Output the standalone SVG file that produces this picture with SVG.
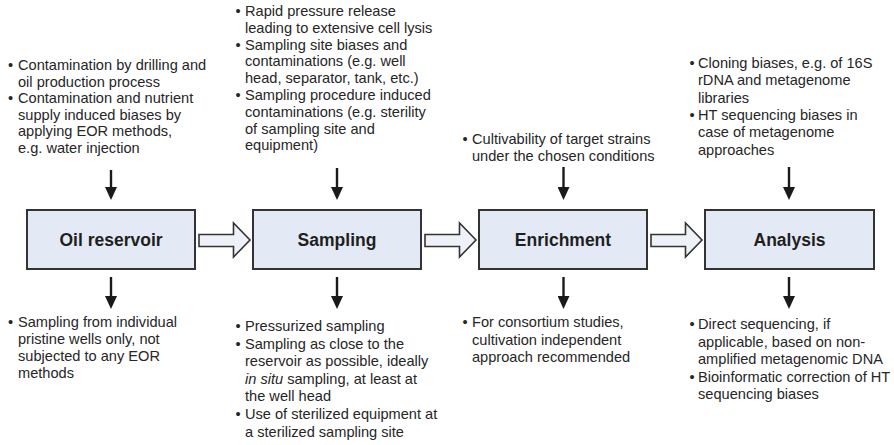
<svg xmlns="http://www.w3.org/2000/svg" width="894" height="445" viewBox="0 0 894 445">
<defs>
<style>
.t{font-family:"Liberation Sans",Arial,sans-serif;font-size:14.6px;fill:#262626}
.b{font-family:"Liberation Sans",Arial,sans-serif;font-size:14.6px;fill:#262626;text-anchor:middle}
.box{fill:#e4eaf5;stroke:#333;stroke-width:2}
.lbl{font-family:"Liberation Sans",Arial,sans-serif;font-size:17.5px;font-weight:bold;fill:#1f1f1f;text-anchor:middle}
.blk{fill:#eef2f8;stroke:#333;stroke-width:1.6;stroke-linejoin:miter}
.va{stroke:#1a1a1a;stroke-width:2.4;fill:none;marker-end:url(#ah)}
</style>
<marker id="ah" markerUnits="userSpaceOnUse" markerWidth="13" markerHeight="12" refX="7" refY="6" orient="auto" viewBox="0 0 13 12">
<path d="M0,0 L13,6 L0,12 Z" fill="#1a1a1a"/>
</marker>
<path id="blockArrow" d="M199,234.5 H233.5 V223 L250,240 L233.5,257 V246.5 H199 Z"/>
</defs>
<rect width="894" height="445" fill="#fff"/>

<g id="connectors">
<use href="#blockArrow" class="blk"/>
<use href="#blockArrow" class="blk" transform="translate(226 0)"/>
<use href="#blockArrow" class="blk" transform="translate(452 0)"/>
<line class="va" x1="111" y1="170" x2="111" y2="194"/>
<line class="va" x1="337" y1="168" x2="337" y2="194"/>
<line class="va" x1="563.5" y1="167" x2="563.5" y2="194"/>
<line class="va" x1="789" y1="167" x2="789" y2="194"/>
<line class="va" x1="111" y1="277" x2="111" y2="303"/>
<line class="va" x1="337" y1="277" x2="337" y2="303"/>
<line class="va" x1="563.5" y1="277" x2="563.5" y2="303"/>
<line class="va" x1="789" y1="277" x2="789" y2="303"/>
</g>

<g id="node-oil-reservoir">
<rect class="box" x="27" y="210" width="168" height="59"/>
<text class="lbl" x="111" y="246">Oil reservoir</text>
</g>
<g id="node-sampling">
<rect class="box" x="253" y="210" width="168" height="59"/>
<text class="lbl" x="337" y="246">Sampling</text>
</g>
<g id="node-enrichment">
<rect class="box" x="479" y="210" width="168" height="59"/>
<text class="lbl" x="563" y="246">Enrichment</text>
</g>
<g id="node-analysis">
<rect class="box" x="705" y="210" width="169" height="59"/>
<text class="lbl" x="789.5" y="246">Analysis</text>
</g>

<g id="notes-oil-top">
<text class="b" x="10.5" y="70">•</text>
<text class="t" x="18" y="70">Contamination by drilling and</text>
<text class="t" x="18" y="86.5">oil production process</text>
<text class="b" x="10.5" y="103">•</text>
<text class="t" x="18" y="103">Contamination and nutrient</text>
<text class="t" x="18" y="119.5">supply induced biases by</text>
<text class="t" x="18" y="136">applying EOR methods,</text>
<text class="t" x="18" y="152.5">e.g. water injection</text>
</g>

<g id="notes-sampling-top">
<text class="b" x="238" y="16">•</text>
<text class="t" x="245" y="16">Rapid pressure release</text>
<text class="t" x="245" y="32.8">leading to extensive cell lysis</text>
<text class="b" x="238" y="49.6">•</text>
<text class="t" x="245" y="49.6">Sampling site biases and</text>
<text class="t" x="245" y="66.4">contaminations (e.g. well</text>
<text class="t" x="245" y="83.2">head, separator, tank, etc.)</text>
<text class="b" x="238" y="100">•</text>
<text class="t" x="245" y="100">Sampling procedure induced</text>
<text class="t" x="245" y="116.8">contaminations (e.g. sterility</text>
<text class="t" x="245" y="133.6">of sampling site and</text>
<text class="t" x="245" y="150.4">equipment)</text>
</g>

<g id="notes-enrichment-top">
<text class="b" x="465" y="144">•</text>
<text class="t" x="472" y="144">Cultivability of target strains</text>
<text class="t" x="472" y="160.5">under the chosen conditions</text>
</g>

<g id="notes-analysis-top">
<text class="b" x="692" y="68">•</text>
<text class="t" x="698" y="68">Cloning biases, e.g. of 16S</text>
<text class="t" x="698" y="85.3">rDNA and metagenome</text>
<text class="t" x="698" y="102.6">libraries</text>
<text class="b" x="692" y="120">•</text>
<text class="t" x="698" y="120">HT sequencing biases in</text>
<text class="t" x="698" y="137.2">case of metagenome</text>
<text class="t" x="698" y="154.5">approaches</text>
</g>

<g id="notes-oil-bottom">
<text class="b" x="10.5" y="327">•</text>
<text class="t" x="18" y="327">Sampling from individual</text>
<text class="t" x="18" y="344">pristine wells only, not</text>
<text class="t" x="18" y="361">subjected to any EOR</text>
<text class="t" x="18" y="378">methods</text>
</g>

<g id="notes-sampling-bottom">
<text class="b" x="238" y="331">•</text>
<text class="t" x="245" y="331">Pressurized sampling</text>
<text class="b" x="238" y="348.6">•</text>
<text class="t" x="245" y="348.6">Sampling as close to the</text>
<text class="t" x="245" y="366.2">reservoir as possible, ideally</text>
<text class="t" x="245" y="383.8"><tspan font-style="italic">in situ</tspan> sampling, at least at</text>
<text class="t" x="245" y="401.4">the well head</text>
<text class="b" x="238" y="419">•</text>
<text class="t" x="245" y="419">Use of sterilized equipment at</text>
<text class="t" x="245" y="436.6">a sterilized sampling site</text>
</g>

<g id="notes-enrichment-bottom">
<text class="b" x="465" y="327">•</text>
<text class="t" x="472" y="327">For consortium studies,</text>
<text class="t" x="472" y="344.5">cultivation independent</text>
<text class="t" x="472" y="362">approach recommended</text>
</g>

<g id="notes-analysis-bottom">
<text class="b" x="692" y="329">•</text>
<text class="t" x="698" y="329">Direct sequencing, if</text>
<text class="t" x="698" y="346.5">applicable, based on non-</text>
<text class="t" x="698" y="364">amplified metagenomic DNA</text>
<text class="b" x="692" y="381.5">•</text>
<text class="t" x="698" y="381.5">Bioinformatic correction of HT</text>
<text class="t" x="698" y="399">sequencing biases</text>
</g>
</svg>
